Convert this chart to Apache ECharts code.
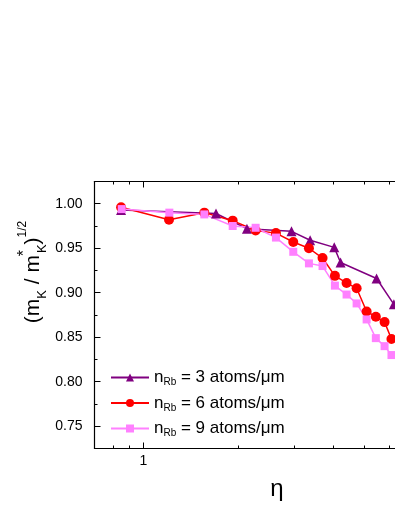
<!DOCTYPE html>
<html>
<head>
<meta charset="utf-8">
<script src="https://cdn.jsdelivr.net/npm/echarts@6/dist/echarts.min.js"></script>
<style>
  html, body { margin: 0; padding: 0; background: #fff; }
  #chart { width: 395px; height: 511px; }
</style>
</head>
<body>
<div id="chart"></div>
<script>
// η 与 (m_K / m_K*)^(1/2)，三种 Rb 密度
const eta3 = [0.85, 1.70, 2.13, 2.95, 3.38, 4.03, 4.22, 5.49, 6.23]
const val3 = [0.993, 0.989, 0.972, 0.969, 0.959, 0.951, 0.934, 0.916, 0.887]
const eta6 = [0.85, 1.206, 1.561, 1.92, 2.27, 2.633, 2.988, 3.35, 3.70, 4.05, 4.41, 4.745, 5.105, 5.46, 5.82, 6.12]
const val6 = [0.996, 0.982, 0.990, 0.981, 0.970, 0.967, 0.957, 0.950, 0.939, 0.919, 0.911, 0.905, 0.879, 0.873, 0.867, 0.848]
const eta9 = [0.854, 1.209, 1.561, 1.92, 2.27, 2.633, 2.988, 3.35, 3.70, 4.05, 4.41, 4.745, 5.105, 5.46, 5.82, 6.12]
const val9 = [0.994, 0.990, 0.988, 0.975, 0.973, 0.962, 0.946, 0.933, 0.930, 0.908, 0.898, 0.888, 0.870, 0.849, 0.840, 0.830]
const densities = [3, 6, 9]

// 刻度
const xMajorTicks = [1]
const xMinorTicks = [0.8, 0.9, 2, 3, 4, 5, 6]
const yMajorTicks = [0.75, 0.80, 0.85, 0.90, 0.95, 1.00]
const yMinorTicks = [0.775, 0.825, 0.875, 0.925, 0.975]

const FONT = 'Liberation Sans, Arial, sans-serif'
// 图在右侧被裁掉，可见部分只到 η ≈ 6.28
const X_MIN = Math.log10(0.7)
const X_MAX = Math.log10(6.28)

const toPoints = (xs, ys) => xs.map((x, i) => [Math.log10(x), ys[i]])

// log 轴用 log10 后的值画
function xAxisDef (position, ticks, len, showLine, showLabel) {
  return {
    type: 'value',
    position: position,
    min: X_MIN,
    max: X_MAX,
    axisLine: { show: showLine, onZero: false, lineStyle: { color: '#000', width: 1.2 } },
    splitLine: { show: false },
    axisTick: {
      show: true,
      inside: true,
      length: len,
      customValues: ticks.map(t => Math.log10(t)),
      lineStyle: { color: '#000', width: 1 }
    },
    axisLabel: {
      show: showLabel,
      customValues: ticks.map(t => Math.log10(t)),
      formatter: v => String(Math.round(Math.pow(10, v))),
      margin: 6,
      color: '#000',
      fontSize: 14,
      fontFamily: FONT
    }
  }
}

function yAxisDef (ticks, len, showLine, showLabel) {
  return {
    type: 'value',
    position: 'left',
    min: 0.725,
    max: 1.025,
    axisLine: { show: showLine, onZero: false, lineStyle: { color: '#000', width: 1.2 } },
    splitLine: { show: false },
    axisTick: {
      show: true,
      inside: true,
      length: len,
      customValues: ticks,
      lineStyle: { color: '#000', width: 1 }
    },
    axisLabel: {
      show: showLabel,
      customValues: ticks,
      formatter: v => v.toFixed(2),
      margin: 12,
      color: '#000',
      fontSize: 14,
      fontFamily: FONT
    }
  }
}

const colors = ['#800080', '#ff0000', '#ff80ff']
const symbols = ['triangle', 'circle', 'rect']
const symbolSizes = [10, 10, 8]
const dataSets = [toPoints(eta3, val3), toPoints(eta6, val6), toPoints(eta9, val9)]

const chart = echarts.init(document.getElementById('chart'))
chart.setOption({
  animation: false,
  backgroundColor: '#fff',
  grid: { left: 94.5, right: 0, top: 181.5, bottom: 62.5 },
  xAxis: [
    xAxisDef('bottom', xMajorTicks, 6, true, true),
    xAxisDef('bottom', xMinorTicks, 3, false, false),
    xAxisDef('top', xMajorTicks, 6, true, false),
    xAxisDef('top', xMinorTicks, 3, false, false)
  ],
  yAxis: [
    yAxisDef(yMajorTicks, 6, true, true),
    yAxisDef(yMinorTicks, 3, false, false)
  ],
  legend: {
    orient: 'vertical',
    left: 105,
    top: 364,
    itemWidth: 38,
    itemHeight: 10,
    itemGap: 7,
    formatter: name => '{n|n}{s|Rb}{t| = ' + name + ' atoms/μm}',
    textStyle: {
      rich: {
        n: { fontSize: 17, lineHeight: 20, fontFamily: FONT, color: '#000' },
        s: { fontSize: 10, lineHeight: 6, verticalAlign: 'bottom', fontFamily: FONT, color: '#000' },
        t: { fontSize: 17, lineHeight: 20, fontFamily: FONT, color: '#000' }
      }
    }
  },
  graphic: [{
    type: 'text',
    x: 33,
    y: 272,
    rotation: Math.PI / 2,
    style: {
      text: '{p|(m}{s|K}{p| / m}{u|*}{s|K}{p|)}{h|1/2}',
      align: 'center',
      verticalAlign: 'middle',
      rich: {
        p: { fontSize: 21, lineHeight: 32, fontFamily: FONT, fill: '#000' },
        s: { fontSize: 13, lineHeight: 12, verticalAlign: 'bottom', fontFamily: FONT, fill: '#000' },
        u: { fontSize: 16, lineHeight: 29, width: 0, padding: [0, 0, 0, 2], verticalAlign: 'top', fontFamily: FONT, fill: '#000' },
        h: { fontSize: 12, lineHeight: 4, verticalAlign: 'top', fontFamily: FONT, fill: '#000' }
      }
    }
  }, {
    type: 'text',
    x: 277,
    y: 489,
    style: {
      text: 'η',
      align: 'center',
      verticalAlign: 'middle',
      fontSize: 24,
      fontFamily: FONT,
      fill: '#000'
    }
  }],
  series: densities.map((d, i) => ({
    name: String(d),
    type: 'line',
    xAxisIndex: 0,
    yAxisIndex: 0,
    data: dataSets[i],
    symbol: symbols[i],
    symbolSize: symbolSizes[i],
    showAllSymbol: true,
    color: colors[i],
    lineStyle: { width: 1.5, color: colors[i] },
    itemStyle: { color: colors[i] }
  }))
})
</script>
</body>
</html>
